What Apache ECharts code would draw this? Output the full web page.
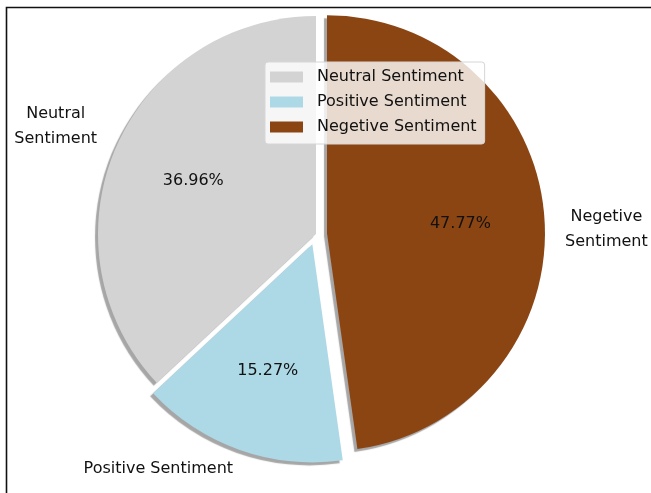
<!DOCTYPE html>
<html>
<head>
<meta charset="utf-8">
<script src="https://cdn.jsdelivr.net/npm/echarts@6/dist/echarts.min.js"></script>
<style>
  html, body { margin: 0; padding: 0; background: #fff; }
  #chart { width: 651px; height: 493px; }
</style>
</head>
<body>
<div id="chart"></div>
<script>
// Sentiment shares (percent of all items)
const categories = ['Neutral Sentiment', 'Positive Sentiment', 'Negetive Sentiment'];
const shares = [36.96, 15.27, 47.77];
const sliceLabels = ['Neutral\nSentiment', 'Positive Sentiment', 'Negetive\nSentiment'];
const sliceColors = ['#d3d3d3', '#add8e6', '#8b4513'];
const pulledOut = [false, true, true];

const FONT = 'DejaVu Sans';
const CX = 316, CY = 234, R = 218;
// vertical nudge of the outer name labels
const nameNudge = [-13, 0, 13];

const chart = echarts.init(document.getElementById('chart'), null, { renderer: 'canvas' });

const sliceData = categories.map((name, i) => ({
  name: name,
  value: shares[i],
  selected: pulledOut[i],
  itemStyle: { color: sliceColors[i] }
}));

const pctData = categories.map((name, i) => ({
  name: name,
  value: shares[i],
  selected: pulledOut[i]
}));

chart.setOption({
  animation: false,
  backgroundColor: '#fff',
  graphic: [{
    type: 'rect',
    shape: { x: 6.5, y: 7.5, width: 700, height: 600 },
    style: { fill: 'none', stroke: '#111', lineWidth: 1.6 },
    z: 100,
    silent: true
  }],
  legend: {
    orient: 'vertical',
    left: 265,
    top: 62,
    icon: 'rect',
    itemWidth: 33,
    itemHeight: 11,
    itemGap: 9,
    padding: [7, 8, 9, 5],
    backgroundColor: 'rgba(255,255,255,0.8)',
    borderColor: '#d6d6d6',
    borderWidth: 1,
    borderRadius: 3,
    selectedMode: false,
    z: 10,
    data: categories.map((n, i) => ({ name: n, itemStyle: { color: sliceColors[i] } })),
    textStyle: {
      fontFamily: FONT,
      fontSize: 16,
      color: '#111',
      padding: [0, 0, 0, 9]
    }
  },
  series: [
    {
      name: 'slices',
      type: 'pie',
      center: [CX, CY],
      radius: [0, R],
      startAngle: 90,
      clockwise: false,
      selectedMode: 'multiple',
      selectedOffset: 11,
      avoidLabelOverlap: false,
      emphasis: { disabled: true },
      itemStyle: {
        borderWidth: 0,
        shadowColor: 'rgba(0,0,0,0.35)',
        shadowBlur: 1,
        shadowOffsetX: -3,
        shadowOffsetY: 3
      },
      label: {
        show: true,
        position: 'outside',
        distanceToLabelLine: 0,
        fontFamily: FONT,
        fontSize: 16,
        color: '#111',
        formatter: function (p) {
          const parts = sliceLabels[p.dataIndex].split('\n');
          if (parts.length === 1) return parts[0];
          return parts.map(s => '{c|' + s + '}').join('\n');
        },
        rich: {
          c: { width: 84, align: 'center', fontFamily: FONT, fontSize: 16, color: '#111', lineHeight: 25 }
        }
      },
      labelLine: { show: false, length: 20, length2: 0 },
      labelLayout: function (params) {
        return { dy: nameNudge[params.dataIndex] };
      },
      data: sliceData,
      z: 2
    },
    {
      name: 'percent',
      type: 'pie',
      center: [CX, CY],
      radius: [0, R * 1.2],
      startAngle: 90,
      clockwise: false,
      selectedMode: 'multiple',
      selectedOffset: 11,
      avoidLabelOverlap: false,
      silent: true,
      emphasis: { disabled: true },
      itemStyle: { color: 'rgba(0,0,0,0)', borderWidth: 0 },
      label: {
        show: true,
        position: 'inside',
        fontFamily: FONT,
        fontSize: 16,
        color: '#111',
        formatter: function (p) { return p.value.toFixed(2) + '%'; }
      },
      labelLine: { show: false },
      data: pctData,
      z: 3
    }
  ]
});
</script>
</body>
</html>
